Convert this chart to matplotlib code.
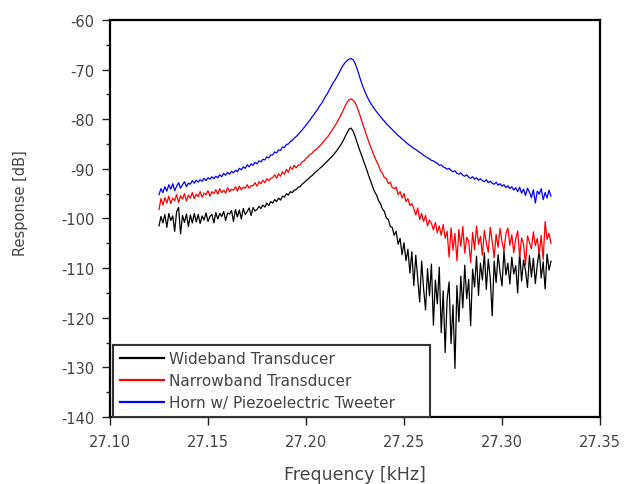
import numpy as np
import matplotlib
matplotlib.use("Agg")
import matplotlib.pyplot as plt

# ---- data -------------------------------------------------------------
freq_start_khz = 27.125
freq_stop_khz = 27.325
n_points = 201
freq_khz = np.linspace(freq_start_khz, freq_stop_khz, n_points)

wideband_db = [
    -101.5, -99.6, -100.9, -99.2, -101.8, -99.0, -100.4, -99.5, -102.6, -98.6,
    -97.8, -103.1, -99.4, -100.8, -99.1, -101.6, -99.3, -100.9, -99.0, -100.7,
    -99.2, -101.0, -99.5, -100.3, -98.9, -100.6, -99.6, -99.2, -100.9, -98.8,
    -100.1, -99.0, -99.6, -98.6, -100.4, -98.9, -99.1, -98.4, -100.6, -98.2,
    -99.7, -98.3, -100.1, -98.0, -99.2, -98.6, -97.9, -99.4, -97.8, -98.5,
    -98.2, -97.6, -98.0, -97.3, -97.7, -96.9, -97.4, -96.6, -96.9, -96.2,
    -96.6, -95.9, -96.3, -95.5, -95.7, -95.0, -95.3, -94.6, -94.8, -94.3,
    -94.2, -93.7, -93.6, -93.1, -92.8, -92.4, -92.1, -91.7, -91.4, -91.0,
    -90.6, -90.3, -89.9, -89.6, -89.2, -88.8, -88.4, -88.0, -87.6, -87.2,
    -86.7, -86.2, -85.6, -85.0, -84.3, -83.5, -82.7, -82.0, -81.8, -82.4,
    -83.4, -84.6, -85.8, -86.9, -88.0, -89.1, -90.2, -91.4, -92.5, -93.6,
    -94.6, -95.3, -96.4, -97.0, -98.1, -98.6, -99.9, -100.2, -101.6, -101.8,
    -103.4, -102.6, -105.2, -104.0, -107.3, -104.9, -108.5, -106.2, -111.0, -106.7,
    -113.5, -107.4, -112.0, -116.8, -108.6, -114.2, -118.4, -110.1, -115.6, -109.2,
    -121.5, -112.4, -117.2, -109.8, -123.0, -114.6, -127.0, -116.3, -112.8, -125.2,
    -117.4, -130.2, -113.5, -120.8, -111.6, -118.0, -109.4, -116.2, -112.3, -121.6,
    -110.2, -113.8, -107.6, -115.5, -109.0, -112.4, -106.9, -114.3, -108.2, -111.9,
    -119.6, -108.6, -112.9, -107.3, -110.8, -113.6, -106.5, -111.4, -109.0, -113.2,
    -107.8, -111.2, -109.5, -115.0, -106.7, -112.6, -108.4, -110.5, -113.9, -107.5,
    -111.8, -108.0, -113.1, -109.3, -106.4, -112.0, -108.7, -114.2, -107.2, -110.4,
    -108.6,
]

narrowband_db = [
    -98.2, -96.0, -97.3, -95.8, -96.9, -95.5, -97.0, -95.9, -96.4, -95.2,
    -96.8, -95.4, -96.1, -95.0, -96.5, -95.3, -95.9, -94.8, -96.0, -95.1,
    -95.6, -94.6, -95.7, -94.9, -95.2, -94.4, -95.5, -94.6, -95.0, -94.2,
    -95.1, -94.0, -94.8, -94.3, -94.9, -93.8, -94.6, -94.1, -94.3, -93.6,
    -94.5, -93.5, -94.2, -93.7, -93.9, -93.2, -93.9, -93.4, -93.4, -92.8,
    -93.5, -92.6, -93.0, -92.3, -92.8, -92.0, -92.4, -91.9, -91.8, -91.2,
    -91.9, -91.0, -91.5, -90.6, -91.1, -90.1, -90.7, -89.6, -90.1, -89.3,
    -89.8, -89.3, -89.2, -88.6, -88.4, -87.9, -87.6, -87.1, -86.9, -86.4,
    -86.2, -85.8, -85.4, -85.0, -84.5, -84.0, -83.6, -83.0, -82.4, -81.8,
    -81.2, -80.5, -79.8, -79.0, -78.2, -77.3, -76.6, -76.1, -75.9, -76.2,
    -76.6, -77.5, -78.6, -79.8, -81.0, -82.2, -83.4, -84.5, -85.6, -86.6,
    -87.6, -88.5, -89.3, -90.4, -90.9, -91.8, -91.9, -93.0, -92.7, -93.8,
    -94.0, -93.7, -95.2, -94.6, -95.9, -95.0, -96.6, -96.0, -97.4, -97.0,
    -98.0, -99.3, -97.9, -100.2, -99.0, -100.6, -99.4, -101.5, -100.3, -101.0,
    -102.3, -100.8, -102.9, -101.5, -103.4, -101.2, -104.0, -102.6, -107.8, -101.9,
    -106.4, -103.0, -108.5, -102.2, -105.6, -101.6, -107.0, -103.8, -104.5, -108.9,
    -102.8, -106.3, -101.5, -105.2, -103.6, -107.4, -102.4, -104.9, -106.8, -101.8,
    -104.6, -107.9, -103.2, -105.8, -102.0, -104.7, -106.5, -103.1, -101.9, -105.4,
    -103.3, -106.9, -104.1, -102.5, -107.6, -103.9, -105.2, -109.4, -103.5, -104.8,
    -106.1, -102.7, -105.5, -104.0, -107.2, -103.4, -108.3, -100.6, -104.2, -103.0,
    -105.0,
]

horn_db = [
    -95.2, -94.0, -94.8, -93.6, -94.5, -93.2, -94.1, -93.0, -94.4, -93.5,
    -92.8, -93.9, -93.2, -92.6, -93.6, -92.9, -93.1, -92.4, -92.9, -92.3,
    -92.7, -92.2, -92.5, -91.9, -92.4, -91.8, -92.1, -91.6, -92.0, -91.5,
    -91.8, -91.2, -91.6, -90.9, -91.3, -90.7, -91.1, -90.5, -90.8, -90.3,
    -90.6, -89.9, -90.2, -89.6, -89.9, -89.2, -89.6, -89.0, -89.3, -88.7,
    -89.0, -88.4, -88.6, -88.1, -88.2, -87.6, -87.8, -87.2, -87.2, -86.6,
    -86.8, -86.2, -86.3, -85.6, -85.7, -85.1, -85.0, -84.5, -84.3, -83.8,
    -83.5, -83.1, -82.6, -82.2, -81.7, -81.2, -80.7, -80.2, -79.6, -79.1,
    -78.5, -78.0, -77.3, -76.8, -76.1, -75.4, -74.8, -74.0, -73.3, -72.6,
    -72.0, -71.3, -70.6, -69.8, -69.1, -68.6, -68.2, -67.9, -67.8, -68.0,
    -68.7, -69.8, -71.0, -72.3, -73.4, -74.4, -75.3, -76.1, -76.8, -77.4,
    -78.0, -78.5, -79.0, -79.5, -80.0, -80.4, -80.9, -81.3, -81.7, -82.1,
    -82.5, -82.9, -83.3, -83.6, -84.0, -84.3, -84.7, -85.0, -85.3, -85.6,
    -85.9, -86.1, -86.4, -86.7, -86.9, -87.3, -87.5, -87.8, -88.0, -88.3,
    -88.4, -88.7, -88.9, -89.3, -89.2, -89.6, -89.8, -90.1, -89.9, -90.3,
    -90.6, -90.4, -90.9, -91.1, -90.8, -91.3, -91.5, -91.2, -91.7, -91.9,
    -91.6, -92.1, -91.8, -92.3, -92.0, -92.4, -92.6, -92.2, -92.8, -92.5,
    -92.9, -93.1, -92.7, -93.3, -93.0, -93.5, -93.2, -93.8, -93.4, -94.0,
    -93.6, -94.3, -93.8, -94.6, -93.7, -94.9, -94.1, -95.4, -93.9, -94.7,
    -95.8, -94.2, -96.9, -94.5, -95.1, -94.0, -96.2, -94.8, -95.9, -94.3,
    -95.5,
]

series_labels = ["Wideband Transducer", "Narrowband Transducer",
                 "Horn w/ Piezoelectric Tweeter"]
series_colors = ["#000000", "#ff0000", "#0000ff"]

x_ticks = [27.10, 27.15, 27.20, 27.25, 27.30, 27.35]
y_ticks = [-140, -130, -120, -110, -100, -90, -80, -70, -60]

# ---- plot -------------------------------------------------------------
plt.rcParams["font.family"] = ["DejaVu Sans"]
plt.rcParams["axes.unicode_minus"] = False

fig = plt.figure(figsize=(6.25, 4.85), dpi=100)
ax = fig.add_axes([0.176, 0.138, 0.784, 0.819])

for ys, lab, col in zip([wideband_db, narrowband_db, horn_db],
                        series_labels, series_colors):
    ax.plot(freq_khz, ys, color=col, lw=0.9, label=lab)

ax.set_xlim(27.10, 27.35)
ax.set_ylim(-140, -60)
ax.set_xticks(x_ticks)
ax.set_xticklabels([f"{v:.2f}" for v in x_ticks])
ax.set_yticks(y_ticks)
ax.set_yticks(np.arange(-135, -60, 10), minor=True)

text_col = "#444444"
ax.tick_params(axis="both", which="major", direction="out", length=6,
               width=1.0, color="#222222", labelsize=10.5, labelcolor=text_col)
ax.tick_params(axis="x", pad=6)
ax.tick_params(axis="y", pad=5)
ax.tick_params(axis="y", which="minor", direction="out", length=3,
               width=1.0, color="#222222")
for sp in ax.spines.values():
    sp.set_linewidth(1.6)
    sp.set_color("black")

ax.set_xlabel("Frequency [kHz]", fontsize=12.5, color=text_col, labelpad=12)
ax.set_ylabel("Response [dB]", fontsize=10.5, color=text_col)
ax.yaxis.set_label_coords(-0.168, 0.54)

leg = ax.legend(loc="lower left", bbox_to_anchor=(0.006, 0.0, 0.647, 0.19),
                mode="expand", borderaxespad=0.0, fontsize=11,
                handlelength=2.9, handletextpad=0.35, labelspacing=0.45,
                borderpad=0.45, fancybox=False, frameon=True)
frame = leg.get_frame()
frame.set_edgecolor("#333333")
frame.set_linewidth(1.5)
frame.set_alpha(1.0)
for t in leg.get_texts():
    t.set_color(text_col)
for h in leg.get_lines():
    h.set_linewidth(1.6)

fig.savefig("out.png", dpi=100)
